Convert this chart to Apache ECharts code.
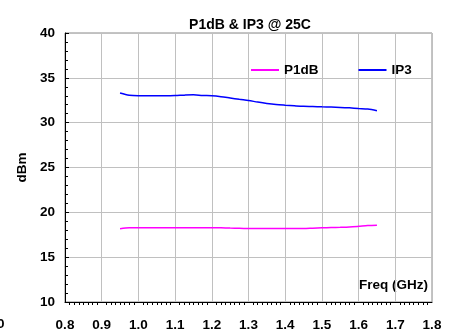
<!DOCTYPE html>
<html>
<head>
<meta charset="utf-8">
<script src="https://cdn.jsdelivr.net/npm/echarts@6/dist/echarts.min.js"></script>
<style>
  html, body { margin: 0; padding: 0; background: #fff; }
  #main { width: 449px; height: 333px; }
</style>
</head>
<body>
<div id="main"></div>
<script>
// frequency points (GHz)
var freq = [0.95, 0.975, 1.0, 1.025, 1.05, 1.075, 1.1, 1.125, 1.15, 1.175, 1.2, 1.225, 1.25, 1.275, 1.3,
  1.325, 1.35, 1.375, 1.4, 1.425, 1.45, 1.475, 1.5, 1.525, 1.55, 1.575, 1.6, 1.625, 1.65];
// P1dB (dBm)
var p1db = [18.18, 18.28, 18.29, 18.29, 18.29, 18.29, 18.29, 18.29, 18.29, 18.29, 18.29, 18.27, 18.24, 18.22, 18.2,
  18.19, 18.19, 18.19, 18.19, 18.19, 18.19, 18.23, 18.27, 18.3, 18.33, 18.37, 18.44, 18.52, 18.55];
// IP3 (dBm)
var ip3 = [33.3, 33.05, 33.0, 33.0, 33.0, 33.0, 33.02, 33.07, 33.1, 33.03, 33.0, 32.9, 32.75, 32.6, 32.47,
  32.3, 32.15, 32.03, 31.95, 31.88, 31.82, 31.8, 31.77, 31.74, 31.7, 31.65, 31.58, 31.52, 31.33];

var xTicks = [0.8, 0.9, 1.0, 1.1, 1.2, 1.3, 1.4, 1.5, 1.6, 1.7, 1.8];
var yTicks = [10, 15, 20, 25, 30, 35, 40];

function pairs(xs, ys) {
  return xs.map(function (x, i) { return [x, ys[i]]; });
}

var font = 'Liberation Sans, Arial, sans-serif';
var fs = 13.5;
var myChart = echarts.init(document.getElementById('main'));
myChart.setOption({
  animation: false,
  title: {
    text: 'P1dB & IP3 @ 25C',
    left: 245,
    top: 13,
    textAlign: 'center',
    textStyle: { fontFamily: font, fontSize: 14, fontWeight: 'bold', color: '#000' }
  },
  legend: {
    left: 246,
    top: 58,
    itemWidth: 28,
    itemHeight: 2,
    itemGap: 40,
    icon: 'rect',
    textStyle: { fontFamily: font, fontSize: fs, fontWeight: 'bold', color: '#000' },
    data: ['P1dB', 'IP3']
  },
  grid: {
    left: 65, right: 17, top: 33, bottom: 31,
    show: true, borderColor: '#888', borderWidth: 1
  },
  xAxis: {
    type: 'value',
    min: xTicks[0],
    max: xTicks[xTicks.length - 1],
    interval: 0.1,
    axisLine: { lineStyle: { color: '#000', width: 1 } },
    axisTick: { show: false },
    minorTick: { show: true, splitNumber: 8, length: 3, lineStyle: { color: '#000' } },
    splitLine: { show: true, lineStyle: { color: '#c0c0c0' } },
    axisLabel: {
      margin: 16,
      fontFamily: font, fontSize: fs, fontWeight: 'bold', color: '#000',
      formatter: function (v) { return v.toFixed(1); }
    }
  },
  yAxis: {
    type: 'value',
    min: yTicks[0],
    max: yTicks[yTicks.length - 1],
    interval: 5,
    name: 'dBm',
    nameLocation: 'middle',
    nameGap: 34,
    nameTextStyle: { fontFamily: font, fontSize: fs, fontWeight: 'bold', color: '#000' },
    axisLine: { show: true, lineStyle: { color: '#000', width: 1 } },
    axisTick: { show: true, inside: true, length: 4, lineStyle: { color: '#000' } },
    minorTick: { show: true, splitNumber: 5, length: 3, lineStyle: { color: '#000' } },
    splitLine: { show: true, lineStyle: { color: '#c0c0c0' } },
    axisLabel: {
      margin: 10,
      fontFamily: font, fontSize: fs, fontWeight: 'bold', color: '#000'
    }
  },
  graphic: [
    {
      type: 'text', right: 21, top: 278,
      style: { text: 'Freq (GHz)', font: 'bold ' + fs + 'px ' + font, fill: '#000' }
    },
    {
      type: 'text', left: -3, top: 317,
      style: { text: '0', font: 'bold ' + fs + 'px ' + font, fill: '#000' }
    }
  ],
  series: [
    {
      name: 'P1dB', type: 'line', symbol: 'none', smooth: 0.3,
      lineStyle: { color: '#ff00ff', width: 1.5 }, itemStyle: { color: '#ff00ff' },
      data: pairs(freq, p1db)
    },
    {
      name: 'IP3', type: 'line', symbol: 'none', smooth: 0.3,
      lineStyle: { color: '#0000ff', width: 1.5 }, itemStyle: { color: '#0000ff' },
      data: pairs(freq, ip3)
    }
  ]
});
</script>
</body>
</html>
